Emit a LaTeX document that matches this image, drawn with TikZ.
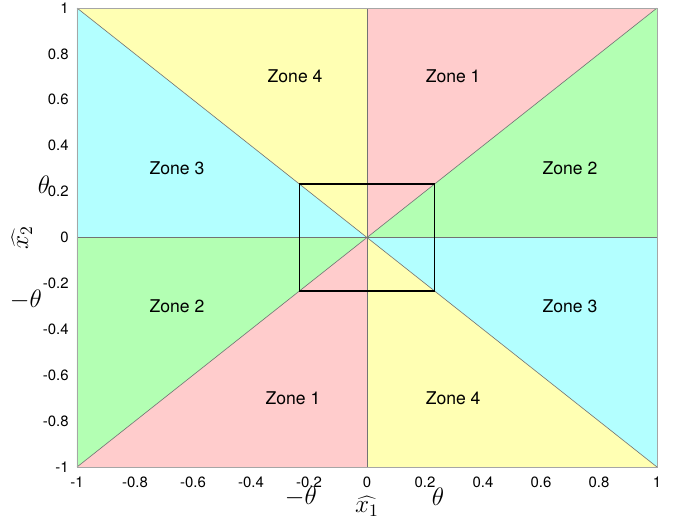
\documentclass[tikz,border=0pt]{standalone}
\usepackage{fontspec}
\setmainfont{TeX Gyre Heros}

\definecolor{zoneone}{RGB}{255,204,204}
\definecolor{zonetwo}{RGB}{179,255,179}
\definecolor{zonethree}{RGB}{179,255,255}
\definecolor{zonefour}{RGB}{255,255,179}

\tikzset{
  ticklabel/.style={font=\fontsize{8.5}{10}\selectfont, inner sep=0pt},
  zonelabel/.style={font=\fontsize{10}{12}\selectfont},
  mathlabel/.style={font=\fontsize{14}{16}\selectfont, inner sep=0pt},
  divider/.style={black!55, line width=0.35pt}
}

\begin{document}
\begin{tikzpicture}[x=5.8cm,y=4.59cm]
  \useasboundingbox (-1.2655,-1.2353) rectangle (1.0828,1.0349);
  % corners of the plot
  \coordinate (o) at (0,0);
  \coordinate (nw) at (-1,1);
  \coordinate (n) at (0,1);
  \coordinate (ne) at (1,1);
  \coordinate (e) at (1,0);
  \coordinate (se) at (1,-1);
  \coordinate (s) at (0,-1);
  \coordinate (sw) at (-1,-1);
  \coordinate (w) at (-1,0);
  % zones
  \fill[zoneone] (o) -- (n) -- (ne) -- cycle;
  \fill[zonetwo] (o) -- (ne) -- (e) -- cycle;
  \fill[zonethree] (o) -- (e) -- (se) -- cycle;
  \fill[zonefour] (o) -- (se) -- (s) -- cycle;
  \fill[zoneone] (o) -- (s) -- (sw) -- cycle;
  \fill[zonetwo] (o) -- (sw) -- (w) -- cycle;
  \fill[zonethree] (o) -- (w) -- (nw) -- cycle;
  \fill[zonefour] (o) -- (nw) -- (n) -- cycle;
  \draw[divider] (nw) -- (se);
  \draw[divider] (sw) -- (ne);
  \draw[divider] (n) -- (s);
  \draw[divider] (w) -- (e);
  \draw[gray!70, line width=0.4pt] (sw) rectangle (ne);
  % the theta box
  \draw[line width=0.9pt] (-0.233,-0.233) rectangle (0.233,0.233);
  % tick labels
  \foreach \v/\name in {-1/m10,-0.8/m8,-0.6/m6,-0.4/m4,-0.2/m2,0/z,0.2/p2,0.4/p4,0.6/p6,0.8/p8,1/p10} {
    \node[ticklabel, anchor=east] (y\name) at ([xshift=-0.16cm]-1,\v) {\v};
    \node[ticklabel, anchor=north] (x\name) at ([yshift=-0.2cm]\v,-1) {\v};
  }
  % zone labels
  \node[zonelabel] (z4a) at (-0.248,0.704) {Zone 4};
  \node[zonelabel] (z1a) at (0.297,0.704) {Zone 1};
  \node[zonelabel] (z3a) at (-0.655,0.303) {Zone 3};
  \node[zonelabel] (z2a) at (0.70,0.303) {Zone 2};
  \node[zonelabel] (z2b) at (-0.655,-0.298) {Zone 2};
  \node[zonelabel] (z3b) at (0.70,-0.298) {Zone 3};
  \node[zonelabel] (z1b) at (-0.255,-0.699) {Zone 1};
  \node[zonelabel] (z4b) at (0.297,-0.699) {Zone 4};
  % axis labels
  \node[mathlabel] (thy) at (-1.114,0.229) {$\theta$};
  \node[mathlabel] (mthy) at (-1.176,-0.272) {$-\theta$};
  \node[mathlabel] (mthx) at (-0.228,-1.131) {$-\theta$};
  \node[mathlabel] (thx) at (0.245,-1.131) {$\theta$};
  \node[mathlabel] (xone) at (0,-1.17) {$\widehat{x_1}$};
  \node[mathlabel, rotate=90] (xtwo) at (-1.19,0) {$\widehat{x_2}$};
\end{tikzpicture}
\end{document}
